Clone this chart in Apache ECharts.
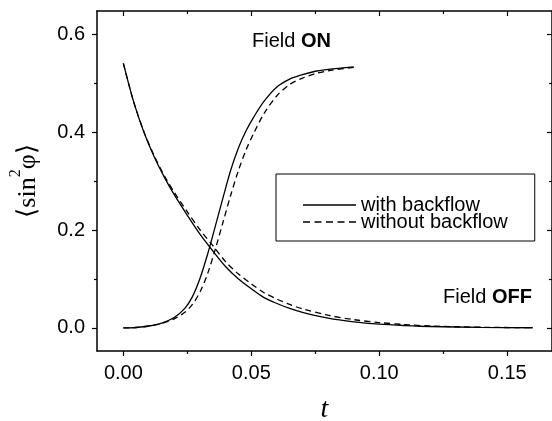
<!DOCTYPE html>
<html>
<head>
<meta charset="utf-8">
<script src="https://cdn.jsdelivr.net/npm/echarts@6/dist/echarts.min.js"></script>
<style>
html,body{margin:0;padding:0;background:#fff;}
#chart{width:552px;height:421px;}
</style>
</head>
<body>
<div id="chart"></div>
<script>
// ---- data ----
// Field OFF (relaxation)
var offT = [0, 0.004, 0.008, 0.012, 0.016, 0.020, 0.025, 0.030, 0.035, 0.040, 0.045, 0.050, 0.055, 0.060, 0.065, 0.070, 0.080, 0.090, 0.100, 0.110, 0.120, 0.140, 0.160];
var offWith = [0.54, 0.462, 0.400, 0.350, 0.308, 0.271, 0.230, 0.191, 0.157, 0.125, 0.100, 0.080, 0.062, 0.050, 0.040, 0.032, 0.020, 0.0125, 0.0078, 0.005, 0.003, 0.0012, 0.0005];
var offWithout = [0.54, 0.462, 0.401, 0.352, 0.311, 0.276, 0.237, 0.200, 0.168, 0.135, 0.110, 0.090, 0.072, 0.059, 0.048, 0.039, 0.026, 0.017, 0.011, 0.007, 0.004, 0.0015, 0.0005];
// Field ON (switching)
var onT = [0, 0.005, 0.010, 0.015, 0.020, 0.024, 0.027, 0.030, 0.033, 0.036, 0.039, 0.042, 0.045, 0.048, 0.051, 0.055, 0.060, 0.065, 0.070, 0.075, 0.080, 0.090];
var onWith = [0, 0.001, 0.004, 0.010, 0.022, 0.040, 0.064, 0.102, 0.152, 0.209, 0.267, 0.323, 0.368, 0.403, 0.431, 0.463, 0.492, 0.508, 0.517, 0.524, 0.528, 0.533];
var onWithout = [0, 0.001, 0.004, 0.009, 0.019, 0.032, 0.048, 0.074, 0.112, 0.162, 0.217, 0.272, 0.322, 0.364, 0.398, 0.438, 0.474, 0.497, 0.510, 0.519, 0.525, 0.532];

var xMajorTicks = [0, 0.05, 0.10, 0.15];
var xMinorTicks = [0.025, 0.075, 0.125];
var yMajorTicks = [0, 0.2, 0.4, 0.6];
var yMinorTicks = [0.1, 0.3, 0.5];
var seriesNames = ['with backflow', 'without backflow'];

function pairs(ts, vs) { return ts.map(function (t, i) { return [t, vs[i]]; }); }

var XMIN = -0.0103, XMAX = 0.1675, YMIN = -0.047, YMAX = 0.647;
var SANS = 'Liberation Sans, Arial, Helvetica, sans-serif';
var SERIF = 'Liberation Serif, Times New Roman, serif';

function xAx(pos, ticks, len, inside, labels, line) {
  return {
    type: 'value', position: pos, min: XMIN, max: XMAX,
    axisLine: { show: line, onZero: false, lineStyle: { color: '#000', width: 1.5 } },
    axisTick: { show: true, inside: inside, length: len, customValues: ticks, lineStyle: { color: '#000', width: 1.2 } },
    axisLabel: labels ? { show: true, customValues: ticks, margin: 12, color: '#000', fontSize: 20, fontFamily: SANS,
      formatter: function (v) { return v.toFixed(2); } } : { show: false },
    splitLine: { show: false }
  };
}
function yAx(pos, ticks, len, inside, labels, line) {
  return {
    type: 'value', position: pos, min: YMIN, max: YMAX,
    axisLine: { show: line, onZero: false, lineStyle: { color: '#000', width: 1.5 } },
    axisTick: { show: true, inside: inside, length: len, customValues: ticks, lineStyle: { color: '#000', width: 1.2 } },
    axisLabel: labels ? { show: true, customValues: ticks, margin: 12, color: '#000', fontSize: 20, fontFamily: SANS,
      formatter: function (v) { return v.toFixed(1); } } : { show: false },
    splitLine: { show: false }
  };
}

var xAxes = [
  xAx('bottom', xMajorTicks, 5, false, true, true),
  xAx('bottom', xMinorTicks, 3, false, false, false),
  xAx('top', xMajorTicks, 5, true, false, true),
  xAx('top', xMinorTicks, 3, true, false, false)
];
xAxes[0].name = 't';
xAxes[0].nameLocation = 'middle';
xAxes[0].nameGap = 45;
xAxes[0].nameTextStyle = { fontFamily: SERIF, fontStyle: 'italic', fontSize: 28, color: '#000' };

var yAxes = [
  yAx('left', yMajorTicks, 5, false, true, true),
  yAx('left', yMinorTicks, 3, false, false, false),
  yAx('right', yMajorTicks, 5, true, false, true),
  yAx('right', yMinorTicks, 3, true, false, false)
];
yAxes[0].name = '{a|⟨sin}{s|2}{a|φ⟩}';
yAxes[0].nameLocation = 'middle';
yAxes[0].nameRotate = 90;
yAxes[0].nameGap = 56;
yAxes[0].nameTextStyle = {
  color: '#000',
  rich: {
    a: { fontFamily: SERIF, fontSize: 26, color: '#000', lineHeight: 34, verticalAlign: 'bottom' },
    s: { fontFamily: SERIF, fontSize: 16, color: '#000', lineHeight: 34, verticalAlign: 'top', padding: [1, 0, 0, 0] }
  }
};

function line(name, data, dashed) {
  return {
    name: name, type: 'line', xAxisIndex: 0, yAxisIndex: 0,
    data: data, smooth: 0.3, symbol: 'none', silent: true,
    lineStyle: { color: '#000', width: 1.3, type: dashed ? [6, 4] : 'solid' },
    itemStyle: { color: '#000' }
  };
}

var chart = echarts.init(document.getElementById('chart'), null, { renderer: 'canvas' });
chart.setOption({
  animation: false,
  backgroundColor: '#fff',
  grid: { left: 97, top: 11, right: 0, bottom: 70, containLabel: false, outerBoundsMode: 'none' },
  xAxis: xAxes,
  yAxis: yAxes,
  legend: {
    show: true, orient: 'vertical', left: 276, top: 174,
    data: [
      { name: seriesNames[0], icon: 'path://M0,0H53V1.4H0Z' },
      { name: seriesNames[1], icon: 'path://M0,0H7V1.4H0Z M11.5,0H18.5V1.4H11.5Z M23,0H30V1.4H23Z M34.5,0H41.5V1.4H34.5Z M46,0H53V1.4H46Z' }
    ],
    itemWidth: 53, itemHeight: 1.4, itemGap: -3,
    padding: [21, 27, 9, 27],
    borderColor: '#000', borderWidth: 1,
    itemStyle: { color: '#000', borderWidth: 0 },
    textStyle: { fontFamily: SANS, fontSize: 20, color: '#000' },
    selectedMode: false
  },
  graphic: [
    { type: 'text', left: 252, top: 31,
      style: { text: '{n|Field }{b|ON}', rich: {
        n: { fontFamily: SANS, fontSize: 20, fill: '#000' },
        b: { fontFamily: SANS, fontSize: 20, fontWeight: 'bold', fill: '#000' } } } },
    { type: 'text', left: 443, top: 287,
      style: { text: '{n|Field }{b|OFF}', rich: {
        n: { fontFamily: SANS, fontSize: 20, fill: '#000' },
        b: { fontFamily: SANS, fontSize: 20, fontWeight: 'bold', fill: '#000' } } } }
  ],
  series: [
    line(seriesNames[0], pairs(offT, offWith), false),
    line(seriesNames[1], pairs(offT, offWithout), true),
    line(seriesNames[0], pairs(onT, onWith), false),
    line(seriesNames[1], pairs(onT, onWithout), true)
  ]
});
</script>
</body>
</html>
